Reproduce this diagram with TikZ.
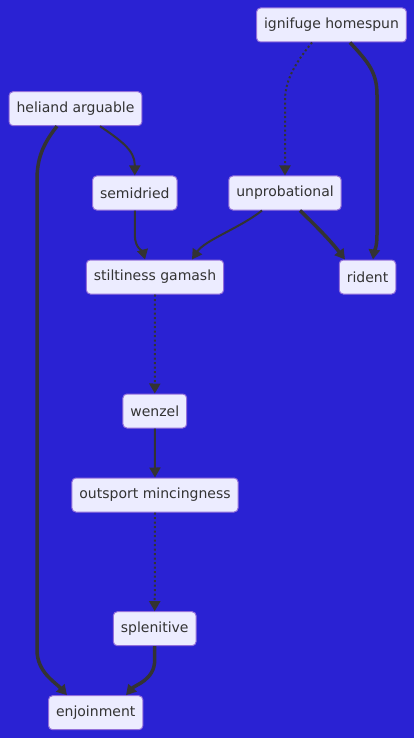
\documentclass[tikz,border=0pt]{standalone}
\usepackage{fontspec}
\setmainfont{DejaVu Sans}
\usetikzlibrary{arrows.meta}
\definecolor{bgblue}{RGB}{42,34,211}
\definecolor{nodefill}{HTML}{ECECFF}
\definecolor{nodeborder}{HTML}{9370DB}
\definecolor{edgecol}{HTML}{333333}
\begin{document}
\begin{tikzpicture}[x=1pt,y=-1pt,
  box/.style={draw=nodeborder, fill=nodefill, line width=1pt, rounded corners=4pt,
    minimum height=34pt, inner xsep=7.5pt, inner ysep=0pt, text=edgecol,
    font=\fontsize{14pt}{16pt}\selectfont},
  edge/.style={draw=edgecol, line width=2pt, -{Triangle[length=10pt,width=11pt]}},
  thickedge/.style={edge, line width=3.5pt},
  dottededge/.style={edge, dash pattern=on 2pt off 2.5pt}]
\fill[bgblue] (0,0) rectangle (414,738);
\useasboundingbox (0,0) rectangle (414,738);

\node[box] (ign) at (331.5,25) {ignifuge homespun};
\node[box] (hel) at (75.5,108.7) {heliand arguable};
\node[box] (semi) at (134.8,193) {semidried};
\node[box] (unp) at (285,193) {unprobational};
\node[box] (stil) at (155,277) {stiltiness gamash};
\node[box] (rid) at (367.5,277) {rident};
\node[box] (wen) at (154.8,411) {wenzel};
\node[box] (out) at (155,495) {outsport mincingness};
\node[box] (spl) at (154.7,628.7) {splenitive};
\node[box] (enj) at (95.7,712.7) {enjoinment};

% ignifuge -> unprobational (dotted)
\draw[dottededge] ([xshift=-19.5pt]ign.south) .. controls (296,62) and (285,80) .. (285,100) -- (unp.north);
% ignifuge -> rident (thick)
\draw[thickedge] ([xshift=18.5pt]ign.south) .. controls (368,62) and (377,72) .. (377,95) -- (377,235) .. controls (377,248) and (374,252) .. ([xshift=5.5pt]rid.north);
% heliand -> semidried
\draw[edge] ([xshift=24.5pt]hel.south) .. controls (120,140) and (134.8,150) .. (134.8,165) -- (semi.north);
% heliand -> enjoinment (thick)
\draw[thickedge] ([xshift=-18.5pt]hel.south) .. controls (42,145) and (37,160) .. (37,180) -- (37,650) .. controls (37,672) and (55,682) .. ([xshift=-28.7pt]enj.north);
% semidried -> stiltiness
\draw[edge] (semi.south) -- (134.8,235) .. controls (134.8,248) and (143,252) .. ([xshift=-10pt]stil.north);
% unprobational -> stiltiness
\draw[edge] ([xshift=-23pt]unp.south) .. controls (240,228) and (205,240) .. ([xshift=37pt]stil.north);
% unprobational -> rident (thick)
\draw[thickedge] ([xshift=15pt]unp.south) .. controls (315,225) and (330,240) .. ([xshift=-22.5pt]rid.north);
% stiltiness -> wenzel (dotted)
\draw[dottededge] (stil.south) -- (wen.north);
% wenzel -> outsport
\draw[edge] (wen.south) -- (out.north);
% outsport -> splenitive (dotted)
\draw[dottededge] (out.south) -- (spl.north);
% splenitive -> enjoinment (thick)
\draw[thickedge] (spl.south) -- (154.7,660) .. controls (154.7,680) and (135,685) .. ([xshift=30.3pt]enj.north);
\end{tikzpicture}
\end{document}
